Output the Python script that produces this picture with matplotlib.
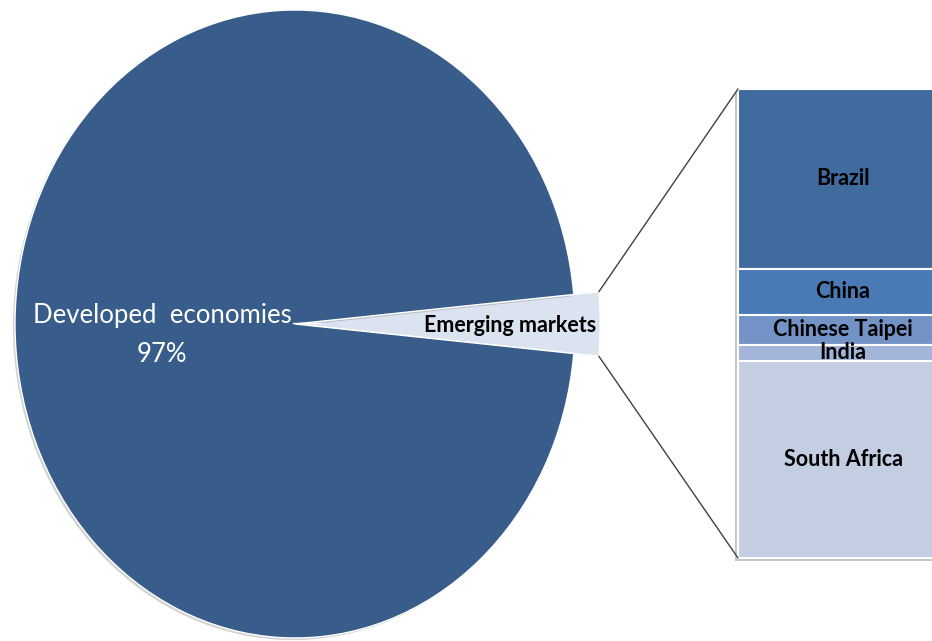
import matplotlib
matplotlib.use("Agg")
import math
import matplotlib.pyplot as plt
import matplotlib.patheffects as pe
from matplotlib.patches import ConnectionPatch, Rectangle

plt.rcParams['font.family'] = ['Lato', 'DejaVu Sans']

# pie: developed vs emerging (share of total)
pie_labels = ["Emerging markets", "Developed  economies"]
pie_values = [3, 97]
pie_colors = ["#dce3f0", "#385d8a"]

# bar: split of the emerging markets slice (top to bottom)
bar_labels = ["Brazil", "China", "Chinese Taipei", "India", "South Africa"]
bar_values = [38.3, 9.8, 6.4, 3.5, 42.0]
bar_colors = ["#406b9f", "#4a7ab6", "#7393c6", "#a3b5d8", "#c3cee3"]

W, H = 932, 641
fig = plt.figure(figsize=(W / 100, H / 100), dpi=100)

# pie axes (elliptical, stretched vertically like the original)
ax = fig.add_axes([15 / W, (H - 638) / H, 560 / W, 628 / H])
half = pie_values[0] / sum(pie_values) * 360 / 2
wedges, _ = ax.pie(pie_values, colors=pie_colors, startangle=-half,
                   counterclock=True,
                   wedgeprops=dict(edgecolor="white", linewidth=1))
ax.set_aspect("auto")
ax.set_xlim(-1, 1)
ax.set_ylim(-1, 1)
wedges[0].set_radius(1.09)
wedges[0].set_clip_on(False)
wedges[1].set_path_effects([pe.SimplePatchShadow(offset=(-1.5, -1.5), shadow_rgbFace="gray", alpha=0.35),
                            pe.Normal()])
wedges[1].set_clip_on(False)

ax.text(-0.475, 0.003, pie_labels[1], color="white", fontsize=18.5,
        ha="center", va="baseline")
ax.text(-0.475, -0.12, f"{pie_values[1]}%", color="white", fontsize=18.5,
        ha="center", va="baseline")
ax.plot([-0.007, 0.09], [0.004, 0.004], color="white", lw=1, clip_on=False)
ax.text(0.768, -0.005, pie_labels[0], color="black", fontsize=15.5,
        fontweight="bold", ha="center", va="center", clip_on=False)

# bar axes
bx = fig.add_axes([738 / W, (H - 558) / H, 262 / W, 469 / H])
bottom = 0
for lab, val, col in zip(bar_labels, bar_values, bar_colors):
    b = bx.bar(0.5, val, width=1, bottom=bottom, color=col,
               edgecolor="white", linewidth=1.5)[0]
    b.set_clip_on(False)
    bx.text(0.5, bottom + val / 2, lab, ha="center", va="center",
            fontsize=15.5, fontweight="bold", color="black")
    bottom += val
bx.set_xlim(0, 262 / 210)
bx.set_ylim(sum(bar_values), 0)
bx.axis("off")

# shadow behind the bar
sh = Rectangle((0, 0), 1, sum(bar_values), facecolor="white", edgecolor="none",
               zorder=0.5, clip_on=False,
               path_effects=[pe.SimplePatchShadow(offset=(-2, -2.5), shadow_rgbFace="gray", alpha=0.45),
                             pe.Normal()])
bx.add_patch(sh)

# connector lines from the emerging wedge to the bar
th = math.radians(half)
r = 1.09
top_pt = (r * math.cos(th), r * math.sin(th))
bot_pt = (r * math.cos(th), -r * math.sin(th))
for p, q in [(top_pt, (0, 0)), (bot_pt, (0, sum(bar_values)))]:
    con = ConnectionPatch(xyA=p, coordsA=ax.transData, xyB=q, coordsB=bx.transData,
                          color="#404040", lw=1)
    fig.add_artist(con)

fig.savefig("out.png", dpi=100)
